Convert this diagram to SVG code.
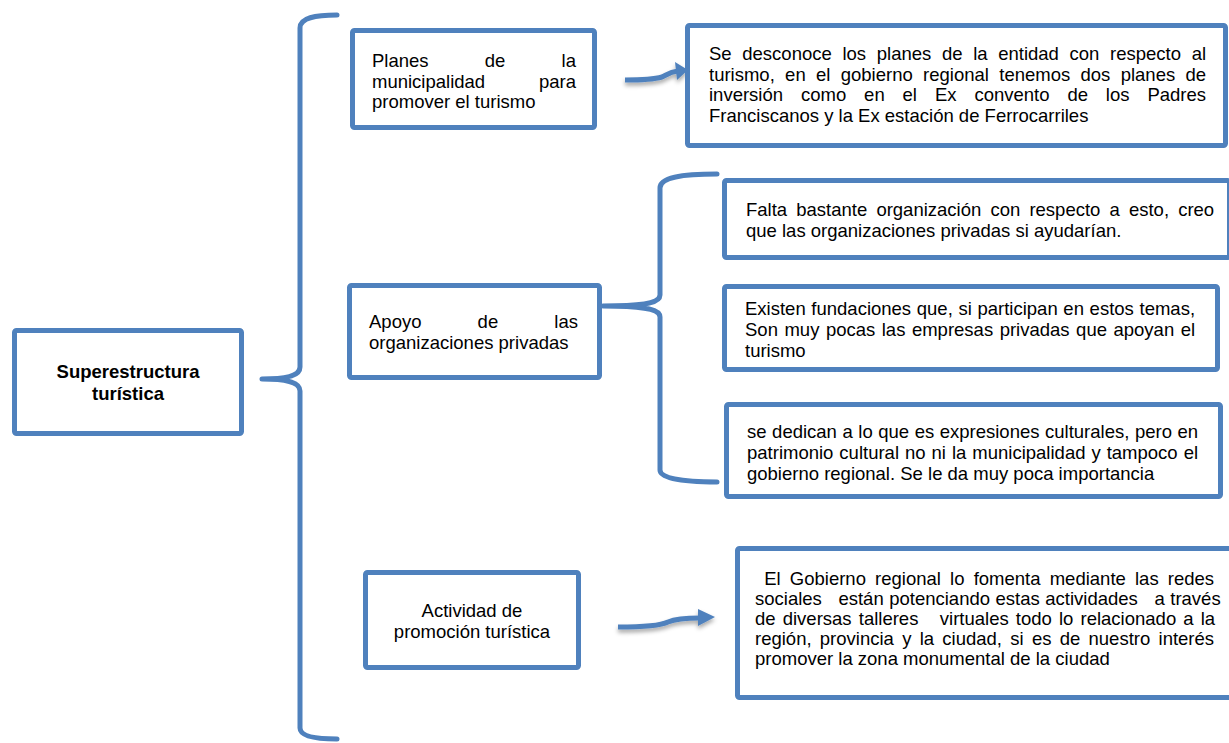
<svg xmlns="http://www.w3.org/2000/svg" width="1229" height="743" viewBox="0 0 1229 743">
<defs>
<style>
.box{fill:#fff;stroke:#4F81BD;stroke-width:5}
.br{fill:none;stroke:#4F81BD;stroke-width:5;stroke-linecap:round;stroke-linejoin:round}
.ar{fill:none;stroke:#4F81BD;stroke-width:5;stroke-linecap:butt}
.ah{fill:#4F81BD}
.t{font-family:"Liberation Sans",Arial,sans-serif;font-size:18.5px;fill:#000;font-kerning:none}
.c{text-anchor:middle}
.b{font-weight:bold}
</style>
<filter id="sh" x="-20%" y="-50%" width="140%" height="250%">
<feDropShadow dx="0" dy="3" stdDeviation="2" flood-color="#000" flood-opacity="0.35"/>
</filter>
</defs>
<rect width="1229" height="743" fill="#fff"/>

<g id="connectors">
<path class="br" d="M337,15 C315,15 300,18 300,28 L300,367 C300,375 290,379 262,379 C290,379 300,383 300,391 L300,728 C300,736 315,739 337,739"/>
<path class="br" d="M717,174 C680,174 660,178 660,188 L660,295 C660,302 650,306 603,306 C650,306 660,310 660,317 L660,470 C660,478 680,482 717,482"/>
<g filter="url(#sh)">
<path class="ar" d="M625,80 C645,80 655,79 662,77 C668,74 670,72 678,71"/>
<polygon class="ah" points="675,62 688,70 677,80"/>
</g>
<g filter="url(#sh)">
<path class="ar" d="M618,627 C640,627 660,626 668,622 C675,619 685,618 700,618"/>
<polygon class="ah" points="698,609 715,617 698,626"/>
</g>
</g>

<g id="n-super">
<rect class="box" x="14.5" y="330.5" width="227" height="103" rx="2"/>
<text class="t b c" x="128" y="378">Superestructura</text>
<text class="t b c" x="128" y="400">turística</text>
</g>

<g id="n-planes">
<rect class="box" x="352.5" y="30.5" width="242" height="97" rx="2"/>
<text class="t" x="372" y="67" word-spacing="51.1">Planes de la</text>
<text class="t" x="372" y="87.5" word-spacing="48.7">municipalidad para</text>
<text class="t" x="372" y="108">promover el turismo</text>
</g>

<g id="n-planes-resp">
<rect class="box" x="687.5" y="25.5" width="538" height="120" rx="2"/>
<text class="t" x="709" y="60" word-spacing="5.52">Se desconoce los planes de la entidad con respecto al</text>
<text class="t" x="709" y="80.5" word-spacing="5.19">turismo, en el gobierno regional tenemos dos planes de</text>
<text class="t" x="709" y="101" word-spacing="12.77">inversión como en el Ex convento de los Padres</text>
<text class="t" x="709" y="121.5">Franciscanos y la Ex estación de Ferrocarriles</text>
</g>

<g id="n-apoyo">
<rect class="box" x="349.5" y="285.5" width="250" height="92" rx="2"/>
<text class="t" x="369" y="328" word-spacing="51">Apoyo de las</text>
<text class="t" x="369" y="348.5">organizaciones privadas</text>
</g>

<g id="n-apoyo-a">
<rect class="box" x="724.5" y="180.5" width="505" height="77" rx="2"/>
<text class="t" x="746" y="216" word-spacing="4.0">Falta bastante organización con respecto a esto, creo</text>
<text class="t" x="746" y="237">que las organizaciones privadas si ayudarían.</text>
</g>

<g id="n-apoyo-b">
<rect class="box" x="724.5" y="286.5" width="493" height="83" rx="2"/>
<text class="t" x="745" y="315" word-spacing="0.53">Existen fundaciones que, si participan en estos temas,</text>
<text class="t" x="745" y="336" word-spacing="1.37">Son muy pocas las empresas privadas que apoyan el</text>
<text class="t" x="745" y="357">turismo</text>
</g>

<g id="n-apoyo-c">
<rect class="box" x="726.5" y="404.5" width="494" height="92" rx="2"/>
<text class="t" x="747" y="438" word-spacing="0.41">se dedican a lo que es expresiones culturales, pero en</text>
<text class="t" x="747" y="459" word-spacing="0.85">patrimonio cultural no ni la municipalidad y tampoco el</text>
<text class="t" x="747" y="480">gobierno regional. Se le da muy poca importancia</text>
</g>

<g id="n-actividad">
<rect class="box" x="365.5" y="572.5" width="213" height="95" rx="2"/>
<text class="t c" x="472" y="617">Actividad de</text>
<text class="t c" x="472" y="638">promoción turística</text>
</g>

<g id="n-actividad-resp">
<rect class="box" x="737.5" y="548.5" width="494" height="149" rx="2"/>
<text class="t" x="755" y="585" word-spacing="4.04" xml:space="preserve"> El Gobierno regional lo fomenta mediante las redes</text>
<text class="t" x="755" y="605" word-spacing="0.39" xml:space="preserve">sociales   están potenciando estas actividades   a través</text>
<text class="t" x="755" y="625" word-spacing="2.0" xml:space="preserve">de diversas talleres   virtuales todo lo relacionado a la</text>
<text class="t" x="755" y="645" word-spacing="3.13">región, provincia y la ciudad, si es de nuestro interés</text>
<text class="t" x="755" y="665">promover la zona monumental de la ciudad</text>
</g>
</svg>
